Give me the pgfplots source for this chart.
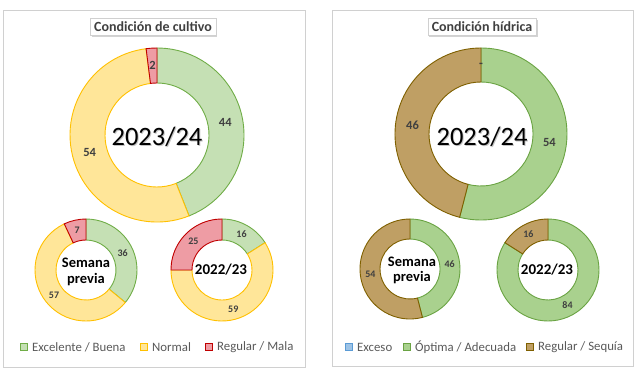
\documentclass[border=0pt]{standalone}
\usepackage{pgfplots}
\pgfplotsset{compat=1.18}
\usepackage{fontspec}
\setmainfont{Carlito}
\usetikzlibrary{shadows}
\definecolor{gfill}{HTML}{C5E0B4}
\definecolor{gline}{HTML}{70AD47}
\definecolor{yfill}{HTML}{FFE699}
\definecolor{yline}{HTML}{FFC000}
\definecolor{rfill}{HTML}{EE9CA4}
\definecolor{rline}{HTML}{C00000}
\definecolor{ggfill}{HTML}{A9D18E}
\definecolor{ggline}{HTML}{6AA343}
\definecolor{bfill}{HTML}{BF9F64}
\definecolor{bline}{HTML}{7F6000}
\definecolor{xfill}{HTML}{9DC3E6}
\definecolor{xline}{HTML}{5B9BD5}
\definecolor{lbl}{HTML}{404040}
\definecolor{leg}{HTML}{595959}
\definecolor{frame}{HTML}{D0D0D0}
% segment: cx cy rout rin start value style
\newcommand\seg[7]{%
 \filldraw[line width=0.9pt,#7] ([shift={({90-3.6*(#5)}:#3pt)}]axis cs:#1,#2)
  arc[start angle={90-3.6*(#5)},end angle={90-3.6*(#5+#6)},radius=#3pt]
  -- ([shift={({90-3.6*(#5+#6)}:#4pt)}]axis cs:#1,#2)
  arc[start angle={90-3.6*(#5+#6)},end angle={90-3.6*(#5)},radius=#4pt] -- cycle;}
% label: cx cy rout rin start value text fontsize
\newcommand\lab[8]{%
 \node[text=lbl,font=\bfseries\fontsize{#8}{#8}\selectfont,inner sep=0pt]
  at ([shift={({90-3.6*(#5+0.5*(#6))}:{0.5*(#3+#4)*1pt})}]axis cs:#1,#2) {#7};}
\newcommand\legitem[4]{% x y fill/draw text
 \filldraw[#3,line width=0.8pt] (axis cs:#1-11.5,#2-3.6) rectangle (axis cs:#1-4.5,#2+3.6);
 \node[anchor=west,inner sep=0pt,text=leg,font=\fontsize{12.8}{14}\selectfont] at (axis cs:#1,#2) {#4};}
\begin{document}
\begin{tikzpicture}
\begin{axis}[width=640pt,height=383pt,scale only axis,xmin=0,xmax=640,ymin=0,ymax=383,
 y dir=reverse,axis lines=none,clip=false]
\addplot[draw=none] coordinates {(0,0) (640,383)};
% panels
\draw[frame,line width=0.8pt] (axis cs:3,10) rectangle (axis cs:305,367);
\draw[frame,line width=0.8pt] (axis cs:332,10) rectangle (axis cs:633,366);
% titles
\node[draw=frame,fill=white,drop shadow={opacity=0.35,shadow xshift=1.5pt,shadow yshift=-1.8pt},
 inner xsep=4pt,minimum height=17pt,inner ysep=1pt,text=lbl,font=\bfseries\fontsize{14}{15}\selectfont]
 at (axis cs:153,27) {Condición de cultivo};
\node[draw=frame,fill=white,drop shadow={opacity=0.35,shadow xshift=1.5pt,shadow yshift=-1.8pt},
 inner xsep=4pt,minimum height=17pt,inner ysep=1pt,text=lbl,font=\bfseries\fontsize{14}{15}\selectfont]
 at (axis cs:482,27) {Condición hídrica};
% ===== Condicion de cultivo, 2023/24: Excelente/Buena 44, Normal 54, Regular/Mala 2
\seg{157}{135}{87}{52}{0}{44}{fill=gfill,draw=gline}
\seg{157}{135}{87}{52}{44}{54}{fill=yfill,draw=yline}
\seg{157}{135}{87}{52}{98}{2}{fill=rfill,draw=rline}
\lab{157}{135}{87}{52}{0}{44}{44}{12.5}
\lab{157}{135}{87}{52}{44}{54}{54}{12.5}
\lab{157}{135}{87}{52}{98}{2}{2}{12.5}
% Semana previa: 36, 57, 7
\seg{86}{270}{51}{30}{0}{36}{fill=gfill,draw=gline}
\seg{86}{270}{51}{30}{36}{57}{fill=yfill,draw=yline}
\seg{86}{270}{51}{30}{93}{7}{fill=rfill,draw=rline}
\lab{86}{270}{51}{30}{0}{36}{36}{10}
\lab{86}{270}{51}{30}{36}{57}{57}{10}
\lab{86}{270}{51}{30}{93}{7}{7}{10}
% 2022/23: 16, 59, 25
\seg{222}{270}{51}{30}{0}{16}{fill=gfill,draw=gline}
\seg{222}{270}{51}{30}{16}{59}{fill=yfill,draw=yline}
\seg{222}{270}{51}{30}{75}{25}{fill=rfill,draw=rline}
\lab{222}{270}{51}{30}{0}{16}{16}{10}
\lab{222}{270}{51}{30}{16}{59}{59}{10}
\lab{222}{270}{51}{30}{75}{25}{25}{10}
% ===== Condicion hidrica, 2023/24: Exceso 0, Optima 54, Regular/Sequia 46
\seg{481}{134}{86}{52}{0}{54}{fill=ggfill,draw=ggline}
\seg{481}{134}{86}{52}{54}{46}{fill=bfill,draw=bline}
\lab{481}{134}{86}{52}{0}{0}{-}{12.5}
\lab{481}{134}{86}{52}{0}{54}{54}{12.5}
\lab{481}{134}{86}{52}{54}{46}{46}{12.5}
% Semana previa: 0, 46, 54
\seg{410}{269}{50}{30}{0}{46}{fill=ggfill,draw=ggline}
\seg{410}{269}{50}{30}{46}{54}{fill=bfill,draw=bline}
\lab{410}{269}{50}{30}{0}{46}{46}{10}
\lab{410}{269}{50}{30}{46}{54}{54}{10}
% 2022/23: 0, 84, 16
\seg{548}{270}{51}{30}{0}{84}{fill=ggfill,draw=ggline}
\seg{548}{270}{51}{30}{84}{16}{fill=bfill,draw=bline}
\lab{548}{270}{51}{30}{0}{84}{84}{10}
\lab{548}{270}{51}{30}{84}{16}{16}{10}
% centre texts
\node[text=black!45,opacity=0.5,font=\fontsize{26.5}{30}\selectfont,inner sep=0pt] at (axis cs:158,138.2) {2023/24};
\node[font=\fontsize{26.5}{30}\selectfont,inner sep=0pt] at (axis cs:157,137) {2023/24};
\node[text=black!45,opacity=0.5,font=\fontsize{26.5}{30}\selectfont,inner sep=0pt] at (axis cs:483,138.2) {2023/24};
\node[font=\fontsize{26.5}{30}\selectfont,inner sep=0pt] at (axis cs:482,137) {2023/24};
\node[anchor=base,inner sep=0pt,font=\bfseries\fontsize{14.5}{16}\selectfont] at (axis cs:86,267.5) {Semana};
\node[anchor=base,inner sep=0pt,font=\bfseries\fontsize{14.5}{16}\selectfont] at (axis cs:86,283) {previa};
\node[anchor=base,inner sep=0pt,font=\bfseries\fontsize{14.5}{16}\selectfont] at (axis cs:412,266.7) {Semana};
\node[anchor=base,inner sep=0pt,font=\bfseries\fontsize{14.5}{16}\selectfont] at (axis cs:412,281.7) {previa};
\node[inner sep=0pt,font=\bfseries\fontsize{15}{16}\selectfont] at (axis cs:221,269.5) {2022/23};
\node[inner sep=0pt,font=\bfseries\fontsize{15}{16}\selectfont] at (axis cs:547,269.5) {2022/23};
% legends
\legitem{32}{347}{fill=gfill,draw=gline}{Excelente / Buena}
\legitem{152}{347}{fill=yfill,draw=yline}{Normal}
\legitem{217}{347}{fill=rfill,draw=rline}{Regular / Mala}
\legitem{357}{347}{fill=xfill,draw=xline}{Exceso}
\legitem{415}{347}{fill=ggfill,draw=ggline}{Óptima / Adecuada}
\legitem{538}{347}{fill=bfill,draw=bline}{Regular / Sequía}
\end{axis}
\end{tikzpicture}
\end{document}
